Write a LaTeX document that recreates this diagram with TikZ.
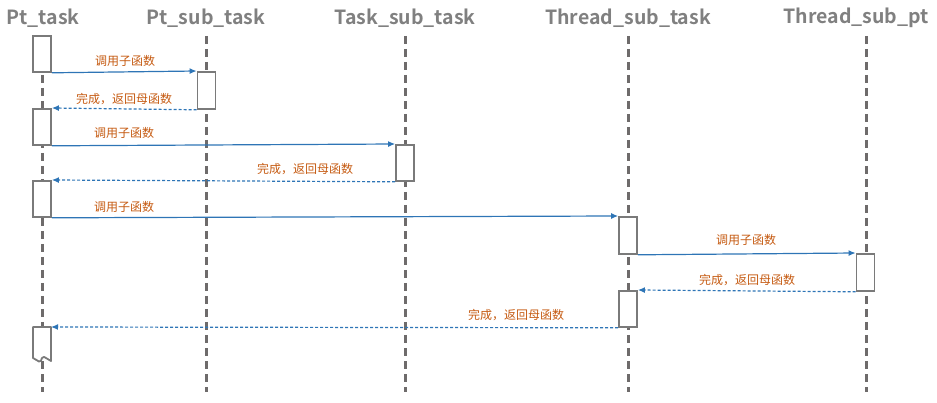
\documentclass[tikz,border=0pt]{standalone}
\usepackage{fontspec}
\setmainfont{Noto Sans CJK SC}[BoldFont={Noto Sans CJK SC Bold}]
\usetikzlibrary{arrows.meta}
\definecolor{lifegray}{HTML}{6E6B6B}
\definecolor{boxgray}{HTML}{7A7A7A}
\definecolor{titlegray}{HTML}{808080}
\definecolor{msgblue}{HTML}{2E75B6}
\definecolor{lblorange}{HTML}{C55A11}
\begin{document}
\begin{tikzpicture}[x=1pt,y=-1pt,
  title/.style={text=titlegray,font=\fontsize{19.5}{22}\selectfont\bfseries,inner sep=0pt},
  lifeline/.style={draw=lifegray,line width=3pt,dash pattern=on 8pt off 5pt},
  actbox/.style={draw=boxgray,line width=1.8pt,fill=white,minimum width=18pt,minimum height=36pt,inner sep=0pt,anchor=north},
  callmsg/.style={draw=msgblue,line width=1.2pt,-{Latex[length=7pt,width=6pt]}},
  retmsg/.style={draw=msgblue,line width=1.2pt,dash pattern=on 3pt off 2pt,-{Latex[length=7pt,width=6pt]}},
  lbl/.style={text=lblorange,font=\fontsize{12}{14}\selectfont,inner sep=0pt}]
\useasboundingbox (0,0) rectangle (937,403);
% titles
\node[title] (tA) at (43,18) {Pt\_task};
\node[title] (tB) at (206,18) {Pt\_sub\_task};
\node[title] (tC) at (405,18) {Task\_sub\_task};
\node[title] (tD) at (628,18) {Thread\_sub\_task};
\node[title] (tE) at (856,18) {Thread\_sub\_pt};
% lifeline ends
\coordinate (lAt) at (42,36);  \coordinate (lAb) at (42,392);
\coordinate (lBt) at (206,36); \coordinate (lBb) at (206,392);
\coordinate (lCt) at (405,36); \coordinate (lCb) at (405,392);
\coordinate (lDt) at (628,36); \coordinate (lDb) at (628,392);
\coordinate (lEt) at (866,36); \coordinate (lEb) at (866,392);
\foreach \l in {A,B,C,D,E} \draw[lifeline] (l\l t) -- (l\l b);
% activation boxes
\node[actbox] (A1) at (42,35) {};
\node[actbox,minimum height=37pt] (B1) at (206.5,71) {};
\node[actbox] (A2) at (42,108) {};
\node[actbox] (C1) at (405,144) {};
\node[actbox] (A3) at (42,180) {};
\node[actbox,minimum height=37pt] (D1) at (628,216) {};
\node[actbox,minimum height=37pt] (E1) at (865.5,253) {};
\node[actbox] (D2) at (628,290) {};
% final wavy box
\coordinate (A4) at (42,327);
\draw[draw=boxgray,line width=1.8pt,fill=white,line join=round]
  ([xshift=-9pt]A4) -- ([xshift=9pt]A4) -- ++(0,34) -- ++(-5,-3)
  .. controls ++(-1.5,-1) and ++(1.5,-2) .. ++(-4,0)
  .. controls ++(-1,2) and ++(2,1) .. ++(-3,3.5) -- ++(-6,-3.5) -- cycle;
% messages
\draw[callmsg] (A1.south east) -- (B1.north west);
\node[lbl] (m1) at (125,61) {调用子函数};
\draw[retmsg] (B1.south west) -- (A2.north east);
\node[lbl] (m2) at (124,99) {完成，返回母函数};
\draw[callmsg] (A2.south east) -- (C1.north west);
\node[lbl] (m3) at (124,133) {调用子函数};
\draw[retmsg] (C1.south west) -- (A3.north east);
\node[lbl] (m4) at (305,169) {完成，返回母函数};
\draw[callmsg] (A3.south east) -- (D1.north west);
\node[lbl] (m5) at (124,207) {调用子函数};
\draw[callmsg] (D1.south east) -- (E1.north west);
\node[lbl] (m6) at (746,240) {调用子函数};
\draw[retmsg] (E1.south west) -- (D2.north east);
\node[lbl] (m7) at (747,280) {完成，返回母函数};
\draw[retmsg] (D2.south west) -- ([xshift=9pt]A4);
\node[lbl] (m8) at (516,315) {完成，返回母函数};
\end{tikzpicture}
\end{document}
